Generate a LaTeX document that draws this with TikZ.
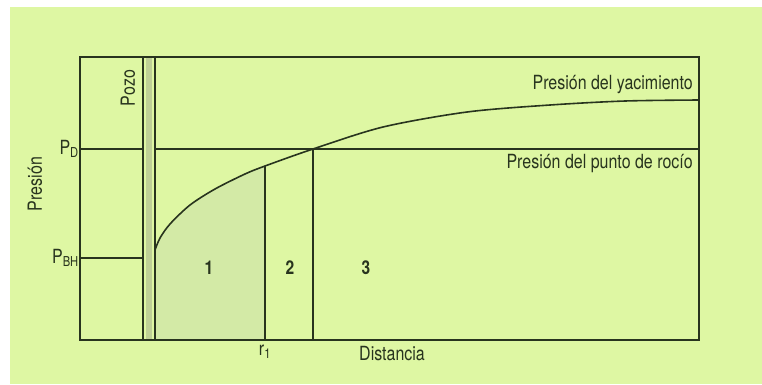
\documentclass[tikz,border=0pt]{standalone}
\usepackage{fontspec}
\setmainfont{TeX Gyre Heros}[FakeStretch=0.82]
\usetikzlibrary{positioning,calc}
\definecolor{bggreen}{RGB}{222,247,163}
\definecolor{inkgreen}{RGB}{40,52,30}
\definecolor{zonegreen}{RGB}{211,234,166}
\definecolor{wellgray}{RGB}{190,208,150}
\tikzset{
  frameline/.style={draw=inkgreen,line width=1.2pt},
  curveline/.style={draw=inkgreen,line width=1.6pt},
  axislabel/.style={font=\fontsize{19.5}{21}\selectfont,text=inkgreen,inner sep=1pt},
  zonelabel/.style={font=\fontsize{19}{21}\selectfont\bfseries,text=inkgreen}
}

\begin{document}
\begin{tikzpicture}[x=1pt,y=-1pt]
  \useasboundingbox (0,0) rectangle (762,384);
  \fill[bggreen] (10,7) rectangle (762,384);
  % corners of the plot
  \coordinate (tl) at (80,57);
  \coordinate (br) at (699,340);
  \coordinate (wl) at (143,340);
  \coordinate (wr) at (155,340);
  % zone 1 under the curve
  \begin{scope}
    \clip (155,57) rectangle (265,340);
    \fill[zonegreen] (155,340) -- plot[smooth] coordinates
      {(155,250) (160,238) (170,224) (190,205) (215,189) (245,174) (265,166)
       (313,149) (383,127) (467,112) (550,105) (625,101) (699,100)}
      -- (699,340) -- cycle;
  \end{scope}
  % well
  \fill[wellgray] (146,57) rectangle (152,340);
  \draw[frameline] (tl) rectangle (br);
  \draw[frameline] (wl) -- (wl |- tl);
  \draw[frameline] (wr) -- (wr |- tl);
  % pressure levels
  \coordinate (pd) at (80,149);
  \coordinate (pbh) at (80,258);
  \draw[frameline] (pd) -- (pd -| wl);
  \draw[frameline] (pd -| wr) -- (pd -| br);
  \draw[frameline] (pbh) -- (pbh -| wl);
  % reservoir pressure curve
  \draw[curveline] plot[smooth] coordinates
      {(155,250) (160,238) (170,224) (190,205) (215,189) (245,174) (265,166)
       (313,149) (383,127) (467,112) (550,105) (625,101) (699,100)};
  \coordinate (rone) at (265,340);
  \coordinate (rdew) at (313,340);
  \draw[frameline] (rone) -- (265,166);
  \draw[frameline] (rdew) -- (rdew |- pd);
  % labels
  \node[axislabel,rotate=90] (pozo) at (128,88) {Pozo};
  \node[axislabel,rotate=90] (presion) at (35,184) {Presión};
  \node[axislabel,left] (pdlab) at (pd) {P\textsubscript{D}};
  \node[axislabel,left] (pbhlab) at (pbh) {P\textsubscript{BH}};
  \node[axislabel,anchor=north] (rlab) at ($(rone)+(0,4)$) {r\textsubscript{1}};
  \node[axislabel,anchor=north west] (dist) at (358,345) {Distancia};
  \node[axislabel,anchor=east] (yac) at (694,85) {Presión del yacimiento};
  \node[axislabel,anchor=east] (rocio) at (694,164) {Presión del punto de rocío};
  \node[zonelabel] (zone1) at (209,268) {1};
  \node[zonelabel] (zone2) at (290,268) {2};
  \node[zonelabel] (zone3) at (366,268) {3};
\end{tikzpicture}
\end{document}
